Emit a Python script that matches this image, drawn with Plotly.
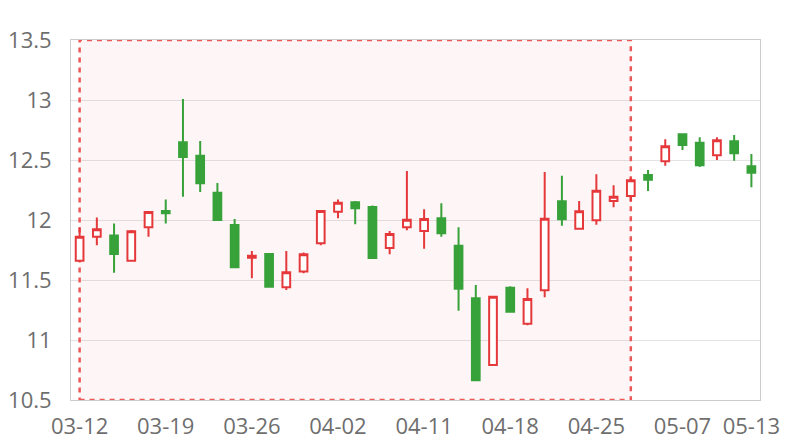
import plotly.graph_objects as go

dates = ["03-12", "03-13", "03-14", "03-15", "03-16", "03-19", "03-20", "03-21", "03-22", "03-23",
         "03-26", "03-27", "03-28", "03-29", "03-30", "04-02", "04-03", "04-04", "04-09", "04-10",
         "04-11", "04-12", "04-13", "04-16", "04-17", "04-18", "04-19", "04-20", "04-23", "04-24",
         "04-25", "04-26", "04-27", "05-02", "05-03", "05-07", "05-08", "05-09", "05-10", "05-13"]

open_ = [11.66, 11.86, 11.87, 11.66, 11.94, 12.075, 12.647, 12.536, 12.228, 11.958,
         11.686, 11.717, 11.44, 11.57, 11.806, 12.069, 12.147, 12.108, 11.767, 11.939,
         11.908, 12.014, 11.786, 11.347, 10.792, 11.436, 11.136, 11.414, 12.156, 11.928,
         11.997, 12.158, 12.2, 12.375, 12.489, 12.714, 12.644, 12.539, 12.656, 12.447]
close = [11.86, 11.922, 11.717, 11.906, 12.067, 12.056, 12.525, 12.306, 12.0, 11.606,
         11.703, 11.444, 11.564, 11.714, 12.075, 12.144, 12.097, 11.683, 11.883, 12.003,
         12.008, 11.889, 11.428, 10.664, 11.361, 11.236, 11.342, 12.011, 12.006, 12.072,
         12.244, 12.194, 12.331, 12.336, 12.614, 12.625, 12.456, 12.664, 12.556, 12.394]
high = [11.94, 12.02, 11.97, 11.917, 12.07, 12.17, 13.008, 12.658, 12.308, 12.008,
        11.742, 11.717, 11.742, 11.73, 12.08, 12.17, 12.158, 12.12, 11.908, 12.408,
        12.089, 12.139, 11.939, 11.458, 11.361, 11.447, 11.431, 12.4, 12.369, 12.158,
        12.381, 12.289, 12.353, 12.417, 12.672, 12.714, 12.689, 12.689, 12.708, 12.55]
low = [11.66, 11.79, 11.56, 11.66, 11.86, 11.97, 12.194, 12.233, 11.994, 11.606,
       11.514, 11.444, 11.417, 11.556, 11.79, 12.014, 11.964, 11.683, 11.714, 11.914,
       11.761, 11.861, 11.244, 10.664, 10.792, 11.236, 11.122, 11.356, 11.953, 11.928,
       11.961, 12.106, 12.153, 12.242, 12.453, 12.583, 12.442, 12.5, 12.494, 12.272]

tick_dates = ["03-12", "03-19", "03-26", "04-02", "04-11", "04-18", "04-25", "05-07", "05-13"]
area_start, area_end = "03-12", "04-27"
y_ticks = [10.5, 11, 11.5, 12, 12.5, 13, 13.5]
y_labels = ["10.5", "11", "11.5", "12", "12.5", "13", "13.5"]

RED = "#e5383b"
GREEN = "#37a13a"
FONT = "Open Sans, Noto Sans, sans-serif"

fig = go.Figure()
fig.add_trace(go.Candlestick(
    x=dates, open=open_, high=high, low=low, close=close,
    increasing=dict(line=dict(color=RED, width=2), fillcolor="#ffffff"),
    decreasing=dict(line=dict(color=GREEN, width=2), fillcolor=GREEN),
    whiskerwidth=0, showlegend=False,
))

fig.add_shape(type="rect", xref="x", yref="y",
              x0=area_start, x1=area_end, y0=y_ticks[0], y1=y_ticks[-1],
              fillcolor="rgba(240,120,120,0.065)",
              line=dict(color="#ec5858", width=2.5, dash="5px,5px"),
              layer="between")

fig.update_layout(
    template="none",
    width=800, height=440,
    margin=dict(l=63, r=48, t=32, b=48),
    paper_bgcolor="white", plot_bgcolor="white",
    boxgap=0.36,
    font=dict(family=FONT, size=22, color="#6e6e6e"),
    xaxis=dict(type="category", categoryorder="array", categoryarray=dates,
               tickvals=tick_dates, ticktext=tick_dates, automargin=False,
               rangeslider=dict(visible=False),
               showgrid=False, showline=True, linecolor="#cccccc", linewidth=1,
               mirror=True, ticks="", ticklabelstandoff=7,
               range=[-0.5, len(dates) - 0.5]),
    yaxis=dict(range=[y_ticks[0], y_ticks[-1]], tickvals=y_ticks, ticktext=y_labels,
               automargin=False,
               showgrid=True, gridcolor="#e3e3e3", gridwidth=1,
               showline=True, linecolor="#cccccc", linewidth=1, mirror=True,
               ticks="", ticklabelstandoff=14, zeroline=False),
)

fig.write_html("out.html")
